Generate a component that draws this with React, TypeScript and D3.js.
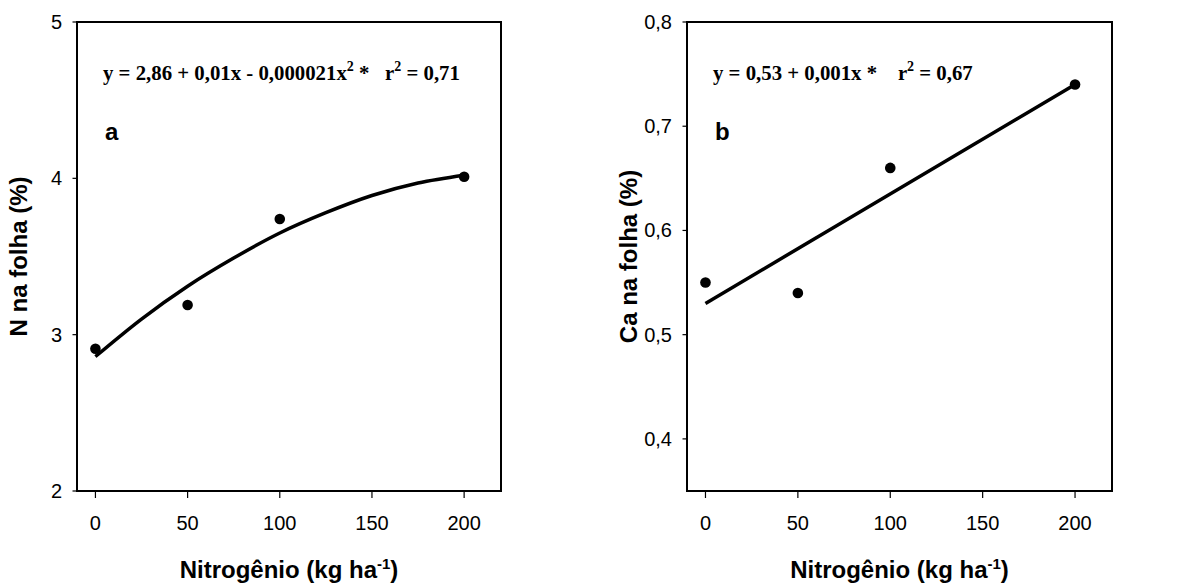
import React from 'react';
import * as d3 from 'd3';

// doses of nitrogen (kg/ha) and leaf contents
const doses = [0, 50, 100, 200];
const nLeaf = [2.91, 3.19, 3.74, 4.01];
const caLeaf = [0.55, 0.54, 0.66, 0.74];

// fitted curves
const nFitX = [0, 25, 50, 75, 100, 125, 150, 175, 200];
const nFitY = [2.86, 3.1, 3.31, 3.49, 3.65, 3.78, 3.89, 3.97, 4.02];
const caFitX = [0, 200];
const caFitY = [0.53, 0.74];

const xTicks = [0, 50, 100, 150, 200];
const nTicks = [2, 3, 4, 5];
const caTicks = [0.4, 0.5, 0.6, 0.7, 0.8];

const sans = '"Liberation Sans", Arial, sans-serif';
const serif = '"Liberation Serif", "Times New Roman", serif';

type PanelProps = {
  x0: number;
  x1: number;
  y0: number;
  y1: number;
  yDomain: [number, number];
  yTicks: number[];
  yFmt: (v: number) => string;
  values: number[];
  fitX: number[];
  fitY: number[];
  yLabel: string;
  letter: string;
  equation: React.ReactNode;
};

function Panel(p: PanelProps) {
  const x = d3.scaleLinear().domain([-10, 220]).range([p.x0, p.x1]);
  const y = d3.scaleLinear().domain(p.yDomain).range([p.y1, p.y0]);
  const line = d3
    .line<number>()
    .x((_, i) => x(p.fitX[i]))
    .y((d) => y(d))
    .curve(d3.curveMonotoneX);
  const cx = (p.x0 + p.x1) / 2;
  const cy = (p.y0 + p.y1) / 2;

  return (
    <g>
      {p.yTicks.map((t) => (
        <g key={'y' + t}>
          <line x1={p.x0 - 4.5} x2={p.x0} y1={y(t)} y2={y(t)} stroke="#000" strokeWidth={1.2} />
          <text x={p.x0 - 15} y={y(t) + 7} textAnchor="end" fontFamily={sans} fontSize={20}>
            {p.yFmt(t)}
          </text>
        </g>
      ))}
      {xTicks.map((t) => (
        <g key={'x' + t}>
          <line x1={x(t)} x2={x(t)} y1={p.y1} y2={p.y1 + 7} stroke="#000" strokeWidth={1.2} />
          <text x={x(t)} y={p.y1 + 39} textAnchor="middle" fontFamily={sans} fontSize={20}>
            {t}
          </text>
        </g>
      ))}
      <rect x={p.x0} y={p.y0} width={p.x1 - p.x0} height={p.y1 - p.y0} fill="none" stroke="#000" strokeWidth={2} />
      <path d={line(p.fitY) || ''} fill="none" stroke="#000" strokeWidth={3.5} />
      {p.values.map((v, i) => (
        <circle key={i} cx={x(doses[i])} cy={y(v)} r={5.3} fill="#000" />
      ))}
      <text x={p.x0 + 26} y={p.y0 + 58} fontFamily={serif} fontWeight="bold" fontSize={20.8} style={{ whiteSpace: 'pre' }}>
        {p.equation}
      </text>
      <text x={p.x0 + 28} y={p.y0 + 118} fontFamily={sans} fontWeight="bold" fontSize={24}>
        {p.letter}
      </text>
      <text
        transform={`translate(${p.x0 - 50},${cy}) rotate(-90)`}
        textAnchor="middle"
        fontFamily={sans}
        fontWeight="bold"
        fontSize={24}
      >
        {p.yLabel}
      </text>
      <text x={cx} y={p.y1 + 87} textAnchor="middle" fontFamily={sans} fontWeight="bold" fontSize={24}>
        Nitrogênio (kg ha
        <tspan dy={-9} fontSize={15}>-1</tspan>
        <tspan dy={9}>)</tspan>
      </text>
    </g>
  );
}

export default function App() {
  const comma = (d: number) => d3.format('.1f')(d).replace('.', ',');
  return (
    <div style={{ position: 'absolute', left: 0, top: 0 }}>
      <svg width={1187} height={586} style={{ display: 'block', background: '#fff' }}>
        <Panel
          x0={77}
          x1={501}
          y0={22}
          y1={491}
          yDomain={[2, 5]}
          yTicks={nTicks}
          yFmt={(d) => String(d)}
          values={nLeaf}
          fitX={nFitX}
          fitY={nFitY}
          yLabel="N na folha (%)"
          letter="a"
          equation={
            <>
              {'y = 2,86 + 0,01x - 0,000021x'}
              <tspan dy={-9} fontSize={14}>2</tspan>
              <tspan dy={9}>{' *   r'}</tspan>
              <tspan dy={-9} fontSize={14}>2</tspan>
              <tspan dy={9}>{' = 0,71'}</tspan>
            </>
          }
        />
        <Panel
          x0={687}
          x1={1112}
          y0={22}
          y1={491}
          yDomain={[0.35, 0.8]}
          yTicks={caTicks}
          yFmt={comma}
          values={caLeaf}
          fitX={caFitX}
          fitY={caFitY}
          yLabel="Ca na folha (%)"
          letter="b"
          equation={
            <>
              {'y = 0,53 + 0,001x *    r'}
              <tspan dy={-9} fontSize={14}>2</tspan>
              <tspan dy={9}>{' = 0,67'}</tspan>
            </>
          }
        />
      </svg>
    </div>
  );
}
